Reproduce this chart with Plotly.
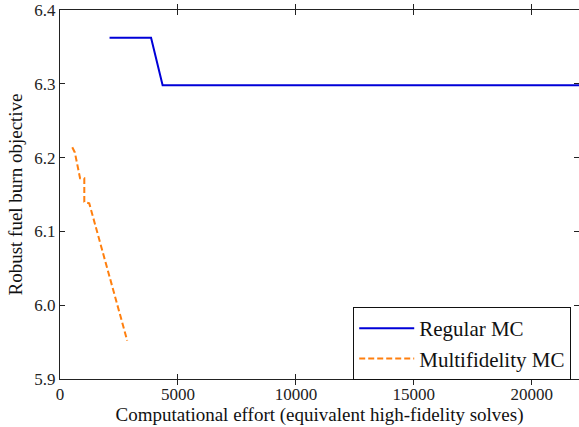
import plotly.graph_objects as go

# Data
regular_x = [2100, 3860, 4350, 22000]
regular_y = [6.3625, 6.3625, 6.298, 6.298]

multi_x = [520, 630, 850, 1030, 1030, 1240, 2850]
multi_y = [6.214, 6.207, 6.172, 6.172, 6.140, 6.138, 5.952]

x_ticks = [0, 5000, 10000, 15000, 20000]
y_ticks = [5.9, 6.0, 6.1, 6.2, 6.3, 6.4]
y_tick_labels = ["5.9", "6.0", "6.1", "6.2", "6.3", "6.4"]

FONT = "Liberation Serif"
AX = "#222222"

fig = go.Figure()
fig.add_trace(go.Scatter(x=regular_x, y=regular_y, mode="lines", name="Regular MC",
                         line=dict(color="#0000d8", width=2)))
fig.add_trace(go.Scatter(x=multi_x, y=multi_y, mode="lines", name="Multifidelity MC",
                         line=dict(color="#ff7f0e", width=2, dash="6px,3px")))

tickfont = dict(family=FONT, size=17, color=AX)

fig.update_layout(
    width=579, height=427,
    margin=dict(l=60, r=0, t=10, b=48),
    paper_bgcolor="white", plot_bgcolor="white",
    font=dict(family=FONT, size=19, color="#111111"),
    xaxis=dict(range=[0, 22000], tickvals=x_ticks, ticktext=[str(v) for v in x_ticks],
               showline=True, linecolor=AX, linewidth=1, mirror="allticks",
               ticks="inside", ticklen=5, tickcolor=AX, showgrid=False, zeroline=False,
               tickfont=tickfont,
               title=dict(text="Computational effort (equivalent high-fidelity solves)",
                          font=dict(family=FONT, size=19), standoff=1)),
    yaxis=dict(range=[5.9, 6.4], tickvals=y_ticks, ticktext=y_tick_labels,
               showline=True, linecolor=AX, linewidth=1, mirror=False,
               ticks="inside", ticklen=5, tickcolor=AX, showgrid=False, zeroline=False,
               tickfont=tickfont,
               title=dict(text="Robust fuel burn objective",
                          font=dict(family=FONT, size=19), standoff=6)),
    yaxis2=dict(range=[5.9, 6.4], tickvals=y_ticks, overlaying="y", side="right",
                showline=False, showticklabels=False, ticks="inside", ticklen=5,
                tickcolor=AX, showgrid=False, zeroline=False),
    legend=dict(x=0.985, xanchor="right", y=0.195, yanchor="top",
                bordercolor="#111111", borderwidth=1, bgcolor="white",
                font=dict(family=FONT, size=21), itemwidth=55,
                tracegroupgap=0),
    showlegend=True,
)

# invisible trace to activate right-side tick axis
fig.add_trace(go.Scatter(x=[None], y=[None], yaxis="y2", showlegend=False, hoverinfo="skip"))

fig.write_html("out.html")
